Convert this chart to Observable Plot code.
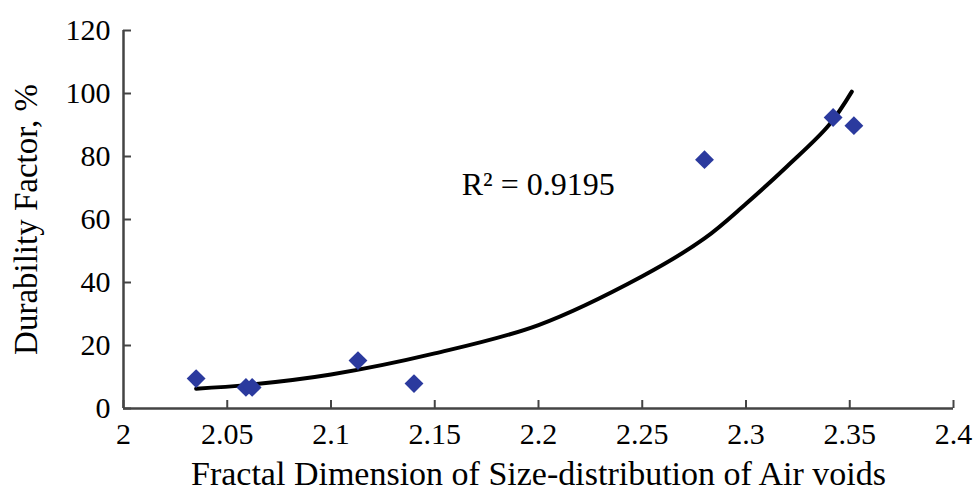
<!DOCTYPE html>
<html>
<head>
<meta charset="utf-8">
<script src="https://cdn.jsdelivr.net/npm/d3@7"></script>
<script src="https://cdn.jsdelivr.net/npm/@observablehq/plot@0.6"></script>
<style>
  html, body { margin: 0; padding: 0; background: #fff; }
  svg { display: block; }
</style>
</head>
<body>
<div id="chart"></div>
<script>
// Measured points
const fractalDim = [2.035, 2.059, 2.062, 2.113, 2.140, 2.280, 2.342, 2.352];
const durability = [9.5, 6.7, 6.7, 15.2, 7.9, 79.0, 92.4, 89.8];

// Trend line (exponential fit)
const trendX = [2.035, 2.06, 2.10, 2.15, 2.20, 2.25, 2.28, 2.30, 2.32, 2.34, 2.351];
const trendY = [6.3, 7.5, 10.8, 17.5, 26.5, 42, 54, 65, 77, 90, 100.6];

const xTicks = [2, 2.05, 2.1, 2.15, 2.2, 2.25, 2.3, 2.35, 2.4];
const yTicks = [0, 20, 40, 60, 80, 100, 120];

const annotationText = ["R² = 0.9195"];
const annotationX = [2.163];
const annotationY = [71];

const points = fractalDim.map((x, i) => ({x, y: durability[i]}));
const trend = trendX.map((x, i) => ({x, y: trendY[i]}));
const notes = annotationText.map((t, i) => ({t, x: annotationX[i], y: annotationY[i]}));

const font = "'Liberation Serif', 'Times New Roman', serif";

const chart = Plot.plot({
  width: 975,
  height: 493,
  marginLeft: 123,
  marginRight: 22,
  marginTop: 30,
  marginBottom: 85,
  style: {fontFamily: font, fontSize: "29px", color: "#000", background: "#fff"},
  x: {domain: [2, 2.4]},
  y: {domain: [0, 120]},
  marks: [
    Plot.axisX({
      ticks: xTicks, tickSize: -8, tickPadding: 22, tickFormat: d => String(+d.toFixed(2)),
      stroke: "#444", strokeWidth: 2, fontSize: 30,
      label: null
    }),
    Plot.axisX({
      ticks: [], label: "Fractal Dimension of Size-distribution of Air voids",
      labelAnchor: "center", labelOffset: 76, labelArrow: "none", fontSize: 34
    }),
    Plot.axisY({
      ticks: yTicks, tickSize: -8, tickPadding: 21,
      stroke: "#444", strokeWidth: 2, fontSize: 30,
      label: null
    }),
    Plot.axisY({
      ticks: [], label: "Durability Factor, %",
      labelAnchor: "center", labelOffset: 110, labelArrow: "none", fontSize: 33
    }),
    Plot.ruleX([2], {stroke: "#444", strokeWidth: 2.5}),
    Plot.ruleY([0], {stroke: "#444", strokeWidth: 2.5}),
    Plot.line(trend, {x: "x", y: "y", curve: "catmull-rom", stroke: "#000", strokeWidth: 4}),
    Plot.dot(points, {x: "x", y: "y", symbol: "diamond2", r: 8.5, fill: "#2b3a9e", stroke: "none"}),
    Plot.text(notes, {x: "x", y: "y", text: "t", textAnchor: "start", fontSize: 32, fill: "#000"})
  ]
});
document.getElementById("chart").appendChild(chart);
</script>
</body>
</html>
